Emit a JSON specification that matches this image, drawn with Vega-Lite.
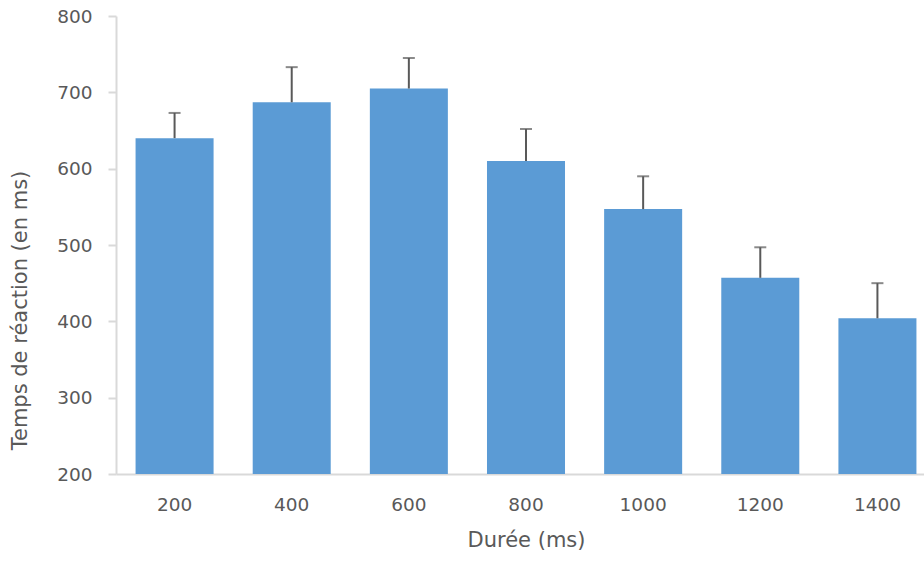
{
  "$schema": "https://vega.github.io/schema/vega-lite/v6.json",
  "width": 820,
  "height": 458,
  "autosize": {"type": "none"},
  "padding": {"left": 116, "top": 16, "right": 0, "bottom": 87},
  "background": "white",
  "config": {
    "view": {"stroke": null},
    "font": "DejaVu Sans",
    "axis": {"labelFont": "DejaVu Sans", "titleFont": "DejaVu Sans", "labelColor": "#595959", "titleColor": "#595959", "labelFontSize": 18.5, "titleFontSize": 21, "titleFontWeight": "normal", "grid": false, "domainColor": "#d9d9d9", "domainWidth": 2, "tickColor": "#d9d9d9", "tickWidth": 2}
  },
  "data": {"values": [
    {"duree": "200", "rt": 640, "err": 673},
    {"duree": "400", "rt": 687, "err": 733},
    {"duree": "600", "rt": 705, "err": 745},
    {"duree": "800", "rt": 610, "err": 652},
    {"duree": "1000", "rt": 547, "err": 590},
    {"duree": "1200", "rt": 457, "err": 497},
    {"duree": "1400", "rt": 404, "err": 450}
  ]},
  "encoding": {
    "x": {"field": "duree", "type": "ordinal", "sort": null, "title": "Durée (ms)",
      "scale": {"paddingInner": 0.334, "paddingOuter": 0.167},
      "axis": {"labelAngle": 0, "ticks": false, "labelPadding": 21, "titlePadding": 16, "titleX": 410}}
  },
  "layer": [
    {"mark": {"type": "bar", "color": "#5B9BD5", "clip": true},
     "encoding": {"y": {"field": "rt", "type": "quantitative", "title": "Temps de réaction (en ms)",
        "scale": {"domain": [200, 800], "zero": false, "nice": false},
        "axis": {"values": [200, 300, 400, 500, 600, 700, 800], "tickSize": 8, "labelPadding": 16, "titleX": -96, "titleY": 294, "titleBaseline": "middle", "titleAlign": "center", "titleAngle": -90}}}},
    {"mark": {"type": "rule", "color": "#595959", "strokeWidth": 2},
     "encoding": {"y": {"field": "rt", "type": "quantitative"}, "y2": {"field": "err"}}},
    {"mark": {"type": "tick", "color": "#595959", "thickness": 2, "size": 12},
     "encoding": {"y": {"field": "err", "type": "quantitative"}}}
  ]
}
